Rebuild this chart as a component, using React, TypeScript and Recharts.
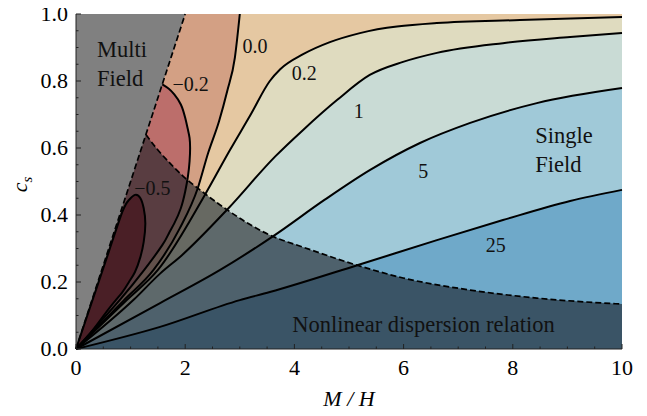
import React from 'react';
import { ComposedChart, Area, Line, Scatter, XAxis, YAxis } from 'recharts';

type Pt = [number, number];

// contour lines as [M/H, c_s]
const cont25: Pt[] = [[0, 0], [1.54, 0.066], [3.0, 0.146], [3.55, 0.17], [5.15, 0.25], [6.61, 0.325], [7.82, 0.385], [9.05, 0.442], [10, 0.475]];
const cont5: Pt[] = [[0, 0], [1.54, 0.137], [2.64, 0.236], [3.64, 0.34], [4.55, 0.445], [5.38, 0.534], [6.3, 0.615], [7.22, 0.675], [8.44, 0.734], [10, 0.779]];
const cont1: Pt[] = [[0, 0], [1.05, 0.146], [1.54, 0.225], [1.94, 0.28], [2.78, 0.418], [3.65, 0.575], [4.16, 0.654], [4.78, 0.743], [5.38, 0.818], [5.99, 0.857], [6.61, 0.884], [7.82, 0.913], [9.05, 0.931], [10, 0.943]];
const cont02: Pt[] = [[0, 0], [0.93, 0.146], [1.5, 0.236], [2.36, 0.46], [2.82, 0.594], [3.2, 0.7], [3.55, 0.8], [3.74, 0.835], [4.16, 0.88], [4.65, 0.916], [5.2, 0.943], [6.61, 0.973], [8.13, 0.982], [10, 0.991]];
const cont00: Pt[] = [[0, 0], [0.88, 0.146], [1.42, 0.236], [1.9, 0.36], [2.23, 0.48], [2.42, 0.585], [2.62, 0.68], [2.77, 0.77], [2.91, 0.87], [3.0, 1.0]];

// closed contours: one M/H grid, lower and upper branch
const neg02X = [0, 0.8, 1.25, 1.58, 1.7, 1.8, 1.92, 2.0, 2.05, 2.08, 2.09];
const neg02Lo = [0, 0.146, 0.236, 0.31, 0.345, 0.375, 0.42, 0.47, 0.515, 0.56, 0.6];
const neg02Hi = [1, 1, 1, 0.79, 0.777, 0.76, 0.73, 0.69, 0.655, 0.63, 0.6];
const neg05X = [0, 0.3, 0.6, 0.85, 0.97, 1.08, 1.18, 1.24, 1.27];
const neg05Lo = [0, 0.055, 0.12, 0.17, 0.2, 0.23, 0.275, 0.32, 0.375];
const neg05Hi = [0, 0.145, 0.29, 0.41, 0.445, 0.46, 0.45, 0.42, 0.375];

// dashed boundaries
const multiEdge: Pt[] = [[0, 0], [2, 1]];
const nonlinEdge: Pt[] = [[1.28, 0.64], [1.5, 0.594], [1.72, 0.555], [2.0, 0.51], [2.23, 0.48], [2.64, 0.43], [3.55, 0.34], [4.16, 0.304], [5.15, 0.25], [5.99, 0.212], [7.22, 0.176], [8.44, 0.152], [10, 0.134]];

const xTicks = [0, 0.5, 1, 1.5, 2, 2.5, 3, 3.5, 4, 4.5, 5, 5.5, 6, 6.5, 7, 7.5, 8, 8.5, 9, 9.5, 10];
const yTicks = [0, 0.05, 0.1, 0.15, 0.2, 0.25, 0.3, 0.35, 0.4, 0.45, 0.5, 0.55, 0.6, 0.65, 0.7, 0.75, 0.8, 0.85, 0.9, 0.95, 1];

const contourLabels = [
  { x: 1.4, y: 0.478, text: '\u22120.5' },
  { x: 2.1, y: 0.791, text: '\u22120.2' },
  { x: 3.28, y: 0.903, text: '0.0' },
  { x: 4.18, y: 0.822, text: '0.2' },
  { x: 5.18, y: 0.71, text: '1' },
  { x: 6.36, y: 0.531, text: '5' },
  { x: 7.69, y: 0.309, text: '25' },
];
const regionLabels = [
  { x: 0.385, y: 0.893, text: 'Multi' },
  { x: 0.385, y: 0.806, text: 'Field' },
  { x: 8.41, y: 0.637, text: 'Single' },
  { x: 8.41, y: 0.552, text: 'Field' },
  { x: 3.96, y: 0.072, text: 'Nonlinear dispersion relation' },
];

const FONT = "'Liberation Serif', 'DejaVu Serif', serif";
const INK = '#222';
const LW = 2;
const TICK_FS = 22;

const above = (c: Pt[]) => c.map(([x, y]) => ({ x, r: [y, 1] }));
const between = (xs: number[], lo: number[], hi: number[]) => xs.map((x, i) => ({ x, r: [lo[i], hi[i]] }));
const asLine = (c: Pt[]) => c.map(([x, y]) => ({ x, y }));
// walk a closed contour: upper branch out, lower branch back
const loop = (xs: number[], lo: number[], hi: number[], from: number) => {
  const up = xs.map((x, i) => ({ x, y: hi[i] })).filter((p) => p.x >= from);
  const down = xs.map((x, i) => ({ x, y: lo[i] })).reverse().slice(1);
  return [...up, ...down];
};

const isMajor = (v: number, step: number) => Math.abs(v / step - Math.round(v / step)) < 1e-6;

function BottomTick({ x, y, payload }: any) {
  const major = isMajor(payload.value, 2);
  return (
    <g>
      <line x1={x} y1={y} x2={x} y2={y - (major ? 5 : 2.5)} stroke={INK} />
      {major && (
        <text x={x} y={y + 26} textAnchor="middle" fontFamily={FONT} fontSize={TICK_FS} fill="#000">
          {payload.value}
        </text>
      )}
    </g>
  );
}

function TopTick({ x, y, payload }: any) {
  const major = isMajor(payload.value, 2);
  return <line x1={x} y1={y} x2={x} y2={y + (major ? 5 : 2.5)} stroke={INK} />;
}

function LeftTick({ x, y, payload }: any) {
  const major = isMajor(payload.value, 0.2);
  return (
    <g>
      <line x1={x} y1={y} x2={x + (major ? 5 : 2.5)} y2={y} stroke={INK} />
      {major && (
        <text x={x - 8} y={y} dy="0.33em" textAnchor="end" fontFamily={FONT} fontSize={TICK_FS} fill="#000">
          {payload.value.toFixed(1)}
        </text>
      )}
    </g>
  );
}

function RightTick({ x, y, payload }: any) {
  const major = isMajor(payload.value, 0.2);
  return <line x1={x} y1={y} x2={x - (major ? 5 : 2.5)} y2={y} stroke={INK} />;
}

const textShape = (size: number, anchor: string) => (p: any) => (
  <text x={p.cx} y={p.cy} dy="0.33em" textAnchor={anchor} fontFamily={FONT} fontSize={size} fill="#111">
    {p.payload.text}
  </text>
);

const fills = [
  { data: [{ x: 0, r: [0, 1] }, { x: 10, r: [0, 1] }], color: '#6fa9c9' },
  { data: above(cont25), color: '#a0c9d8' },
  { data: above(cont5), color: '#c9dbd5' },
  { data: above(cont1), color: '#dfdbbf' },
  { data: above(cont02), color: '#e5c8a2' },
  { data: above(cont00), color: '#d3a084' },
  { data: between(neg02X, neg02Lo, neg02Hi), color: '#bc6e6b' },
  { data: between(neg05X, neg05Lo, neg05Hi), color: '#972328' },
];

export default function App() {
  return (
    <div style={{ margin: '-8px 0 0 -8px' }}>
      <ComposedChart width={638} height={416} margin={{ top: 14, right: 16, bottom: 0, left: 0 }} style={{ fontFamily: FONT }}>
        {fills.map((f, i) => (
          <Area
            key={`fill-${i}`}
            data={f.data}
            dataKey="r"
            type="monotone"
            stroke="none"
            fill={f.color}
            fillOpacity={1}
            dot={false}
            activeDot={false}
            isAnimationActive={false}
          />
        ))}
        <Area
          data={[{ x: 0, r: [0, 1] }, ...nonlinEdge.map(([x, y]) => ({ x, r: [0, y] }))]}
          dataKey="r"
          type="monotone"
          stroke="none"
          fill="#181c25"
          fillOpacity={0.6}
          dot={false}
          activeDot={false}
          isAnimationActive={false}
        />
        <Area
          data={[{ x: 0, r: [0, 1] }, { x: 2, r: [1, 1] }]}
          dataKey="r"
          type="linear"
          stroke="none"
          fill="#808080"
          fillOpacity={1}
          dot={false}
          activeDot={false}
          isAnimationActive={false}
        />
        {[cont25, cont5, cont1, cont02, cont00].map((c, i) => (
          <Line key={`c-${i}`} data={asLine(c)} dataKey="y" type="monotone" stroke="#000" strokeWidth={LW} dot={false} activeDot={false} isAnimationActive={false} />
        ))}
        <Line data={loop(neg02X, neg02Lo, neg02Hi, 1.58)} dataKey="y" type="natural" stroke="#000" strokeWidth={LW} dot={false} activeDot={false} isAnimationActive={false} />
        <Line data={loop(neg05X, neg05Lo, neg05Hi, 0)} dataKey="y" type="natural" stroke="#000" strokeWidth={LW} dot={false} activeDot={false} isAnimationActive={false} />
        <Line data={asLine(multiEdge)} dataKey="y" type="linear" stroke="#000" strokeWidth={1.7} strokeDasharray="6 3" dot={false} activeDot={false} isAnimationActive={false} />
        <Line data={asLine(nonlinEdge)} dataKey="y" type="monotone" stroke="#000" strokeWidth={1.7} strokeDasharray="6 3" dot={false} activeDot={false} isAnimationActive={false} />
        <Scatter data={contourLabels} dataKey="y" shape={textShape(20, 'middle')} isAnimationActive={false} />
        <Scatter data={regionLabels} dataKey="y" shape={textShape(22.5, 'start')} isAnimationActive={false} />
        <XAxis
          dataKey="x"
          type="number"
          domain={[0, 10]}
          ticks={xTicks}
          interval={0}
          height={67}
          tickSize={0}
          tickMargin={0}
          tickLine={false}
          axisLine={{ stroke: INK }}
          tick={BottomTick}
          label={(p: any) => (
            <text x={p.viewBox.x + p.viewBox.width / 2} y={p.viewBox.y + 57} textAnchor="middle" fontFamily={FONT} fontSize={TICK_FS} fontStyle="italic" fill="#000">
              M / H
            </text>
          )}
        />
        <XAxis xAxisId="top" orientation="top" dataKey="x" type="number" domain={[0, 10]} ticks={xTicks} interval={0} height={0} tickSize={0} tickMargin={0} tickLine={false} axisLine={{ stroke: INK }} tick={TopTick} />
        <YAxis
          type="number"
          domain={[0, 1]}
          ticks={yTicks}
          interval={0}
          width={76}
          tickSize={0}
          tickMargin={0}
          tickLine={false}
          axisLine={{ stroke: INK }}
          tick={LeftTick}
          label={(p: any) => {
            const cx = p.viewBox.x + 27;
            const cy = p.viewBox.y + p.viewBox.height / 2 + 3;
            return (
              <text x={cx} y={cy} transform={`rotate(-90, ${cx}, ${cy})`} textAnchor="middle" fontFamily={FONT} fontSize={TICK_FS} fontStyle="italic" fill="#000">
                c<tspan dy={5} fontSize={15}>s</tspan>
              </text>
            );
          }}
        />
        <YAxis yAxisId="right" orientation="right" type="number" domain={[0, 1]} ticks={yTicks} interval={0} width={0} tickSize={0} tickMargin={0} tickLine={false} axisLine={{ stroke: INK }} tick={RightTick} />
      </ComposedChart>
    </div>
  );
}
